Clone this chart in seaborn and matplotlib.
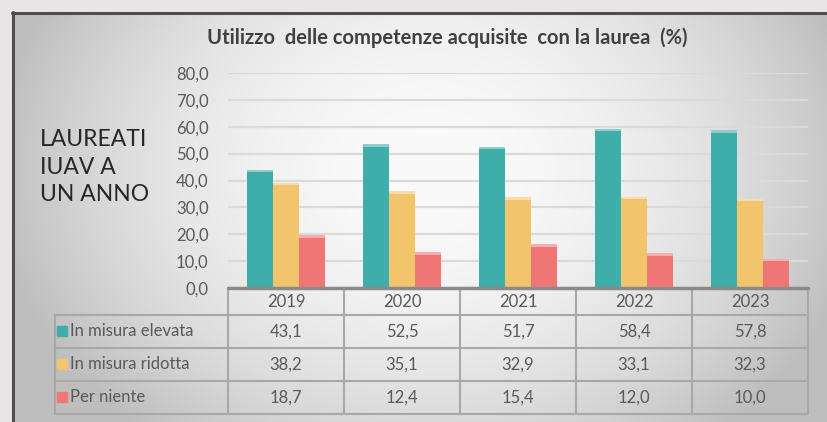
import numpy as np
import pandas as pd
import seaborn as sns
import matplotlib
matplotlib.use('Agg')
import matplotlib.pyplot as plt
from matplotlib.patches import Rectangle
from matplotlib.transforms import blended_transform_factory

# dati
anni = ['2019', '2020', '2021', '2022', '2023']
serie = ['In misura elevata', 'In misura ridotta', 'Per niente']
elevata = [43.1, 52.5, 51.7, 58.4, 57.8]
ridotta = [38.2, 35.1, 32.9, 33.1, 32.3]
per_niente = [18.7, 12.4, 15.4, 12.0, 10.0]
colori = ['#3eaeaa', '#f2c56c', '#f07676']
yticks = [0, 10, 20, 30, 40, 50, 60, 70, 80]

valori = [elevata, ridotta, per_niente]
df = pd.DataFrame({
    'anno': anni * 3,
    'serie': [s for s in serie for _ in anni],
    'valore': elevata + ridotta + per_niente,
})

def fmt(v):
    return f'{v:.1f}'.replace('.', ',')

sns.set_style('white')
plt.rcParams['font.family'] = ['Lato', 'DejaVu Sans']

W, H = 827, 422
fig = plt.figure(figsize=(W / 100, H / 100), dpi=100)

# sfondo con sfumatura
bg = fig.add_axes([0, 0, 1, 1], zorder=-10)
yy, xx = np.mgrid[0:H, 0:W]
d2 = ((xx - 430) / 420) ** 2 + ((yy - 170) / 330) ** 2
g = np.clip(250 - 55 * d2, 190, 252) / 255
img = np.dstack([g, g, g])
outer = (xx < 13) | (yy < 13)
img[outer] = np.array([231, 229, 229]) / 255
bg.imshow(img, extent=[0, W, H, 0], aspect='auto', interpolation='bilinear')
bg.plot([12, W], [13, 13], color='#4d4d4d', lw=2.2)
bg.plot([13, 13], [12, H], color='#4d4d4d', lw=2.2)
bg.set_xlim(0, W)
bg.set_ylim(H, 0)
bg.axis('off')

ax = fig.add_axes([228 / W, 1 - 288 / H, 580 / W, 215 / H])
ax.set_facecolor('none')
sns.barplot(data=df, x='anno', y='valore', hue='serie', palette=colori,
            width=0.68, gap=0, saturation=1, legend=False, ax=ax, zorder=3,
            linewidth=0)

# riflesso chiaro sulla cima delle barre
for p in list(ax.patches):
    c = np.array(matplotlib.colors.to_rgb(p.get_facecolor()))
    light = c + (1 - c) * 0.4
    ax.add_patch(Rectangle((p.get_x(), p.get_height()), p.get_width(), 0.9,
                           facecolor=light, edgecolor='none', zorder=3))

ax.set_ylim(0, 80)
ax.set_xlim(-0.5, 4.5)
ax.set_yticks(yticks)
ax.set_yticklabels([fmt(v) for v in yticks], color='#595959', fontsize=12)
ax.tick_params(axis='y', length=0, pad=14)
ax.set_xticks([])
ax.set_xlabel('')
ax.set_ylabel('')
for s in ax.spines.values():
    s.set_visible(False)
for v in yticks[1:]:
    ax.axhline(v, color='#dadada', lw=1.6, zorder=1)

# tabella dati
tr = blended_transform_factory(ax.transData, ax.transAxes)
rows_y = [0, -0.1256, -0.279, -0.4326, -0.586]
lab_x = -0.298
lc = '#a8a8a8'
ax.plot([-0.5, 4.5], [0, 0], color='#8a8a8a', lw=2.5, transform=tr, clip_on=False, zorder=4)
for y in rows_y[1:]:
    ax.plot([lab_x, 1], [y, y], color=lc, lw=1.5, transform=ax.transAxes, clip_on=False)
ax.plot([lab_x, lab_x], [rows_y[1], rows_y[-1]], color=lc, lw=1.5,
        transform=ax.transAxes, clip_on=False)
for i in range(len(anni) + 1):
    ax.plot([i - 0.5, i - 0.5], [0, rows_y[-1]], color=lc, lw=1.5,
            transform=tr, clip_on=False)

tc = '#595959'
for i, a in enumerate(anni):
    ax.text(i, (rows_y[0] + rows_y[1]) / 2, a, transform=tr, ha='center', va='center',
            fontsize=12, color=tc)
    for r, vals in enumerate(valori):
        ax.text(i, (rows_y[r + 1] + rows_y[r + 2]) / 2, fmt(vals[i]), transform=tr,
                ha='center', va='center', fontsize=12, color=tc)
for r, s in enumerate(serie):
    yc = (rows_y[r + 1] + rows_y[r + 2]) / 2
    ax.plot([-0.286], [yc], marker='s', markersize=7, color=colori[r],
            transform=ax.transAxes, clip_on=False)
    ax.text(-0.273, yc, s, transform=ax.transAxes, ha='left', va='center',
            fontsize=12, color=tc)

fig.text(447 / W, 1 - 38 / H, 'Utilizzo  delle competenze acquisite  con la laurea  (%)',
         ha='center', va='center', fontsize=14.5, fontweight='bold', color='#404040')
fig.text(40 / W, 1 - 167 / H, 'LAUREATI\nIUAV A\nUN ANNO', ha='left', va='center',
         fontsize=16.5, color='#262626', linespacing=1.4)

fig.savefig('out.png', dpi=100)
